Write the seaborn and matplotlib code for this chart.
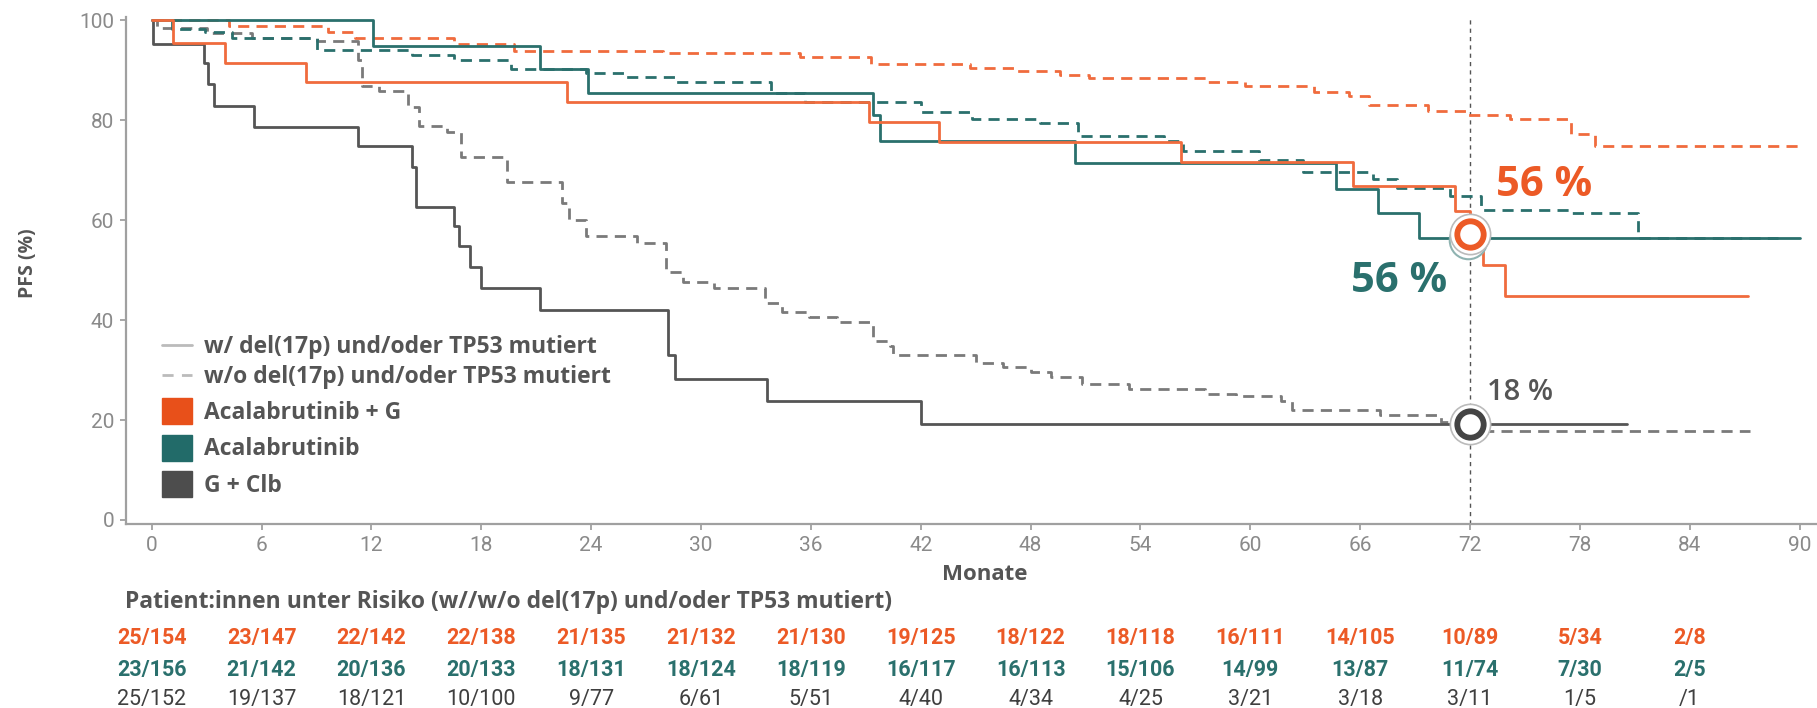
import seaborn as sns
import matplotlib.pyplot as plt
from matplotlib.lines import Line2D
from matplotlib.patches import Patch
from matplotlib.transforms import blended_transform_factory

# Kaplan-Meier steps: month where each value starts, PFS (%)
ag_w_t = [0, 1.15, 4.0, 8.45, 22.7, 39.2, 43.0, 56.2, 65.6, 71.2, 72.0, 72.7, 73.9, 87.2]
ag_w_v = [100, 95.5, 91.5, 87.6, 83.6, 79.6, 75.7, 71.6, 66.9, 61.9, 57.0, 51.0, 44.8, 44.8]

ag_wo_t = [0, 4.2, 9.6, 11.1, 16.5, 19.8, 27.9, 35.4, 39.3, 44.7, 47.2, 49.6, 51.2, 57.7,
           59.7, 63.5, 65.4, 66.5, 69.7, 71.9, 74.2, 77.5, 78.8, 90.0]
ag_wo_v = [100, 98.9, 97.6, 96.5, 95.3, 93.9, 93.4, 92.7, 91.2, 90.5, 89.8, 89.1, 88.4, 87.6,
           86.9, 85.6, 84.8, 83.1, 81.9, 81.0, 80.3, 77.2, 74.8, 74.8]

a_w_t = [0, 12.1, 21.2, 23.8, 39.4, 39.8, 50.4, 64.7, 67.0, 69.2, 90.0]
a_w_v = [100, 94.9, 90.3, 85.5, 81.0, 75.8, 71.4, 66.3, 61.4, 56.5, 56.5]

a_wo_t = [0, 1.1, 2.9, 4.4, 9.0, 14.2, 16.5, 19.6, 23.7, 25.8, 28.6, 33.8, 35.7, 42.0, 44.8,
          48.5, 50.6, 55.3, 56.3, 60.5, 62.9, 66.7, 68.0, 70.9, 72.6, 77.4, 81.2, 88.8]
a_wo_v = [100, 98.2, 97.6, 96.5, 94.1, 93.1, 92.0, 90.3, 89.5, 88.6, 87.6, 85.5, 83.6, 81.7, 80.3,
          79.4, 76.9, 75.8, 73.9, 72.1, 69.7, 68.3, 66.5, 64.8, 62.1, 61.4, 56.5, 56.5]

gc_w_t = [0, 0.05, 2.87, 3.05, 3.4, 5.6, 11.25, 14.2, 14.45, 16.5, 16.76, 17.4, 18.0, 21.2,
          28.2, 28.6, 33.6, 42.0, 80.6]
gc_w_v = [100, 95.3, 91.4, 87.2, 82.9, 78.7, 74.8, 70.7, 62.7, 58.9, 54.8, 50.7, 46.5, 42.1,
          33.1, 28.3, 23.8, 19.3, 19.3]

gc_wo_t = [0, 0.3, 3.0, 5.5, 9.0, 11.25, 11.5, 12.4, 14.0, 14.6, 16.1, 16.9, 19.4, 22.4, 22.8,
           23.7, 26.5, 28.1, 29.0, 30.7, 33.5, 34.4, 35.9, 37.4, 39.4, 40.3, 40.5, 45.0, 46.5,
           48.0, 49.1, 50.8, 53.4, 57.5, 59.2, 61.7, 62.3, 67.1, 70.4, 72.7, 87.3]
gc_wo_v = [100, 98.5, 97.5, 96.5, 95.9, 92.0, 86.9, 85.8, 82.7, 78.9, 77.6, 72.7, 67.6, 63.5, 60.0,
           56.9, 55.5, 49.6, 47.6, 46.5, 43.4, 41.7, 40.7, 39.6, 35.8, 34.8, 33.1, 31.4, 30.7,
           29.6, 28.6, 27.2, 26.2, 25.2, 24.8, 23.8, 22.1, 21.0, 19.7, 17.9, 17.9]

# landmark at 72 months
landmark = 72
landmark_pfs = [57.2, 56.0, 19.3]          # Acalabrutinib + G, Acalabrutinib, G + Clb
landmark_labels = ['56 %', '56 %', '18 %']

# patients at risk
risk_months = [0, 6, 12, 18, 24, 30, 36, 42, 48, 54, 60, 66, 72, 78, 84]
risk_ag = ['25/154', '23/147', '22/142', '22/138', '21/135', '21/132', '21/130', '19/125',
           '18/122', '18/118', '16/111', '14/105', '10/89', '5/34', '2/8']
risk_a = ['23/156', '21/142', '20/136', '20/133', '18/131', '18/124', '18/119', '16/117',
          '16/113', '15/106', '14/99', '13/87', '11/74', '7/30', '2/5']
risk_gc = ['25/152', '19/137', '18/121', '10/100', '9/77', '6/61', '5/51', '4/40',
           '4/34', '4/25', '3/21', '3/18', '3/11', '1/5', '/1']

ORANGE = '#EC5A26'
ORANGE_L = '#F06B3D'
TEAL = '#2A706D'
GRAY = '#555555'
GRAY_D = '#7A7A7A'
TXT = '#555555'

sns.set_theme(style='white')
plt.rcParams['font.family'] = ['Open Sans', 'DejaVu Sans']
COND = ['Liberation Sans Narrow', 'Roboto', 'DejaVu Sans']

fig = plt.figure(figsize=(18.17, 7.08), dpi=100)
ax = fig.add_axes([0.0693, 0.260, 0.9307, 0.716])

curves = [
    (gc_wo_t, gc_wo_v, GRAY_D, True),
    (gc_w_t, gc_w_v, GRAY, False),
    (a_wo_t, a_wo_v, TEAL, True),
    (ag_wo_t, ag_wo_v, ORANGE_L, True),
    (a_w_t, a_w_v, TEAL, False),
    (ag_w_t, ag_w_v, ORANGE_L, False),
]
for t, v, col, dashed in curves:
    sns.lineplot(x=t, y=v, ax=ax, color=col, lw=2.0, drawstyle='steps-post',
                 estimator=None, sort=False)
    if dashed:
        ax.lines[-1].set_dashes([4, 2.6])

# landmark line and markers
ax.axvline(landmark, color='#555555', lw=1.0, dashes=(3, 3), zorder=1)
ring_cols = [ORANGE, TEAL, '#444444']
for i in [1, 0, 2]:
    if i == 1:
        ax.plot([landmark - 0.1], [landmark_pfs[i]], marker='o', ms=27, mfc='white',
                mec='#8FB3B1', mew=1.5, zorder=5)
    else:
        ax.plot([landmark], [landmark_pfs[i]], marker='o', ms=29, mfc='white',
                mec='#BBBBBB', mew=1.2, zorder=6)
        ax.plot([landmark], [landmark_pfs[i]], marker='o', ms=19, mfc='white',
                mec=ring_cols[i], mew=4.2, zorder=7)

ax.text(73.4, 67.0, landmark_labels[0], color=ORANGE, fontsize=30, fontweight='bold',
        ha='left', va='center')
ax.text(65.5, 47.7, landmark_labels[1], color=TEAL, fontsize=30, fontweight='bold',
        ha='left', va='center')
ax.text(72.9, 25.5, landmark_labels[2], color='#555555', fontsize=21, fontweight='semibold',
        ha='left', va='center')

# axes styling
ax.set_xlim(-1.41, 90.95)
ax.set_ylim(-0.8, 100.7)
ax.set_xticks(range(0, 91, 6))
ax.set_yticks(range(0, 101, 20))
sns.despine(ax=ax)
for s in ['left', 'bottom']:
    ax.spines[s].set_color('#A0A0A0')
    ax.spines[s].set_linewidth(1.6)
ax.tick_params(axis='both', direction='out', length=4.5, width=1.3, color='#A0A0A0',
               labelsize=15, labelcolor='#8A8A8A', pad=4, left=True, bottom=True)
for lab in ax.get_xticklabels() + ax.get_yticklabels():
    lab.set_family(COND)
ax.set_xlabel('')
ax.set_ylabel('')
fig.text(0.0155, 0.628, 'PFS (%)', rotation=90, ha='center', va='center',
         fontsize=14, fontweight='bold', color=TXT)
fig.text(0.542, 0.188, 'Monate', ha='center', va='center', fontsize=16,
         fontweight='bold', color=TXT)

# legends
line_handles = [Line2D([], [], color='#BBBBBB', lw=2),
                Line2D([], [], color='#BBBBBB', lw=2, dashes=(4, 3))]
leg1 = ax.legend(line_handles,
                 ['w/ del(17p) und/oder TP53 mutiert', 'w/o del(17p) und/oder TP53 mutiert'],
                 loc='upper left', bbox_to_anchor=(0.0213, 0.373), frameon=False,
                 prop={'size': 16.5, 'weight': 'bold'}, labelcolor=TXT,
                 handlelength=1.31, handletextpad=0.52, labelspacing=0.26,
                 borderaxespad=0, borderpad=0)
ax.add_artist(leg1)
patch_handles = [Patch(color='#E8501A'), Patch(color='#226B69'), Patch(color='#4D4D4D')]
ax.legend(patch_handles, ['Acalabrutinib + G', 'Acalabrutinib', 'G + Clb'],
          loc='upper left', bbox_to_anchor=(0.0213, 0.248), frameon=False,
          prop={'size': 16.5, 'weight': 'bold'}, labelcolor=TXT,
          handlelength=1.31, handleheight=1.36, handletextpad=0.52, labelspacing=0.43,
          borderaxespad=0, borderpad=0)

# risk table
fig.text(0.0688, 0.1497, 'Patient:innen unter Risiko (w//w/o del(17p) und/oder TP53 mutiert)',
         ha='left', va='center', fontsize=16.5, fontweight='bold', color=TXT)
tr = blended_transform_factory(ax.transData, fig.transFigure)
rows = [(risk_ag, ORANGE, 'bold', 0.0989), (risk_a, TEAL, 'bold', 0.0537),
        (risk_gc, '#3F3F3F', 'normal', 0.0113)]
for labels, col, wt, yy in rows:
    for m, s in zip(risk_months, labels):
        ax.text(m, yy, s, transform=tr, ha='center', va='center', fontsize=15.5,
                color=col, fontweight=wt, family=COND, clip_on=False)

fig.savefig('out.png', dpi=100)
